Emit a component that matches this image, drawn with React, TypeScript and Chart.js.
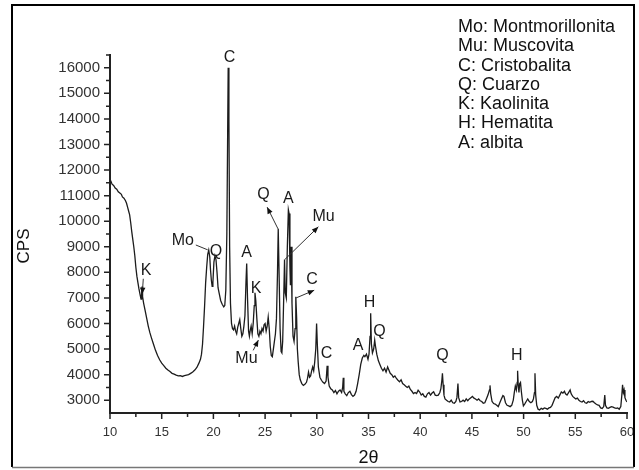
import React, { useEffect, useRef } from "react";
import { Chart, registerables } from "chart.js";

Chart.register(...registerables);

const twoTheta: number[] = [
  10.0, 10.1, 10.2, 10.35, 10.5, 10.65, 10.8, 10.95, 11.1, 11.2, 11.35, 11.5, 11.6, 11.7, 11.8, 11.9,
  12.0, 12.1, 12.2, 12.3, 12.4, 12.5, 12.6, 12.7, 12.8, 12.9, 13.0, 13.05, 13.1, 13.15, 13.25, 13.4,
  13.55, 13.7, 13.85, 14.0, 14.2, 14.4, 14.6, 14.8, 15.0, 15.2, 15.4, 15.6, 15.8, 16.0, 16.2, 16.4,
  16.6, 16.8, 17.0, 17.2, 17.4, 17.6, 17.8, 18.0, 18.2, 18.4, 18.6, 18.75, 18.85, 18.95, 19.05, 19.15,
  19.25, 19.35, 19.45, 19.55, 19.65, 19.72, 19.8, 19.88, 19.95, 20.05, 20.15, 20.25, 20.35, 20.45, 20.55, 20.7,
  20.85, 21.0, 21.1, 21.2, 21.3, 21.38, 21.43, 21.5, 21.57, 21.65, 21.75, 21.85, 21.95, 22.05, 22.15, 22.25,
  22.35, 22.45, 22.55, 22.65, 22.75, 22.85, 22.95, 23.05, 23.15, 23.22, 23.3, 23.4, 23.48, 23.55, 23.65, 23.75,
  23.85, 23.95, 24.02, 24.1, 24.2, 24.3, 24.4, 24.5, 24.6, 24.7, 24.8, 24.9, 25.0, 25.1, 25.2, 25.3,
  25.4, 25.5, 25.6, 25.7, 25.8, 25.9, 26.0, 26.1, 26.2, 26.27, 26.35, 26.45, 26.55, 26.62, 26.7, 26.8,
  26.88, 26.95, 27.05, 27.15, 27.25, 27.32, 27.4, 27.45, 27.52, 27.6, 27.7, 27.8, 27.9, 27.97, 28.05, 28.12,
  28.2, 28.3, 28.4, 28.55, 28.7, 28.85, 29.0, 29.1, 29.2, 29.3, 29.4, 29.5, 29.6, 29.7, 29.8, 29.9,
  29.98, 30.05, 30.15, 30.3, 30.45, 30.6, 30.75, 30.9, 31.0, 31.08, 31.2, 31.35, 31.5, 31.65, 31.8, 31.95,
  32.1, 32.25, 32.4, 32.5, 32.56, 32.62, 32.75, 32.9, 33.05, 33.2, 33.35, 33.5, 33.65, 33.8, 33.95, 34.1,
  34.25, 34.4, 34.55, 34.65, 34.8, 34.95, 35.05, 35.15, 35.21, 35.28, 35.38, 35.5, 35.6, 35.68, 35.8, 35.95,
  36.1, 36.25, 36.4, 36.55, 36.7, 36.85, 36.95, 37.1, 37.25, 37.4, 37.55, 37.7, 37.85, 38.0, 38.15, 38.3,
  38.45, 38.6, 38.75, 38.9, 39.05, 39.2, 39.35, 39.5, 39.65, 39.8, 39.95, 40.1, 40.25, 40.4, 40.55, 40.7,
  40.85, 41.0, 41.15, 41.3, 41.45, 41.6, 41.75, 41.9, 42.0, 42.1, 42.15, 42.22, 42.3, 42.4, 42.55, 42.7,
  42.85, 43.0, 43.15, 43.3, 43.45, 43.55, 43.65, 43.72, 43.85, 44.0, 44.15, 44.3, 44.45, 44.6, 44.75, 44.9,
  45.05, 45.2, 45.35, 45.5, 45.65, 45.8, 45.95, 46.1, 46.25, 46.4, 46.55, 46.7, 46.75, 46.82, 46.95, 47.1,
  47.25, 47.4, 47.55, 47.7, 47.85, 48.0, 48.1, 48.25, 48.4, 48.55, 48.7, 48.85, 49.0, 49.1, 49.2, 49.3,
  49.38, 49.42, 49.48, 49.55, 49.62, 49.7, 49.78, 49.88, 49.98, 50.1, 50.25, 50.4, 50.55, 50.7, 50.85, 50.95,
  51.05, 51.1, 51.17, 51.27, 51.4, 51.55, 51.7, 51.85, 52.0, 52.15, 52.3, 52.45, 52.6, 52.75, 52.9, 53.05,
  53.2, 53.35, 53.5, 53.65, 53.8, 53.95, 54.05, 54.2, 54.35, 54.5, 54.6, 54.75, 54.9, 55.05, 55.2, 55.35,
  55.5, 55.65, 55.8, 55.95, 56.1, 56.25, 56.4, 56.55, 56.7, 56.85, 57.0, 57.15, 57.3, 57.45, 57.6, 57.75,
  57.85, 57.92, 58.05, 58.2, 58.35, 58.5, 58.65, 58.8, 58.95, 59.1, 59.25, 59.4, 59.5, 59.57, 59.65, 59.72,
  59.8, 59.9, 60.0,
];

const cps: number[] = [
  11500, 11550, 11450, 11400, 11300, 11250, 11150, 11100, 11050, 10950, 10900, 10800, 10700, 10550, 10400, 10250,
  9950, 9600, 9300, 9000, 8650, 8200, 7850, 7600, 7350, 7150, 6950, 7100, 7450, 7050, 6800, 6500,
  6200, 5900, 5650, 5450, 5200, 4950, 4750, 4580, 4450, 4350, 4250, 4180, 4120, 4050, 4020, 3980,
  3950, 3960, 3930, 3960, 3980, 4000, 4050, 4100, 4180, 4280, 4450, 4600, 4800, 5200, 5900, 6700,
  7600, 8200, 8700, 8870, 8600, 8100, 7700, 7450, 7600, 8400, 8650, 8500, 8000, 7400, 7200, 6900,
  6750, 6650, 6700, 7300, 9500, 13500, 16000, 14000, 9000, 6800, 6000, 5800, 5750, 5900, 5700, 5600,
  5850, 6000, 6150, 5800, 5500, 5600, 5900, 6300, 7600, 8350, 7000, 5700, 5500, 5700, 5900, 5600,
  6000, 6700, 7200, 6900, 6200, 5600, 5500, 5700, 5600, 5800, 5700, 5950, 6000, 5700, 5900, 6250,
  5800, 5100, 4750, 4700, 5000, 5300, 5600, 6200, 8000, 9700, 8000, 5800, 4900, 4850, 5300, 7000,
  8500, 7200, 7000, 9000, 10450, 10300, 8200, 7500, 9000, 6800, 5500, 5300, 5800, 7050, 6200, 5000,
  4500, 4000, 3800, 3650, 3580, 3620, 3700, 3850, 4100, 3900, 3950, 4150, 4300, 4150, 4500, 5000,
  6000, 5200, 4300, 3900, 3780, 3700, 3650, 3750, 4350, 3900, 3550, 3450, 3400, 3300, 3380, 3250,
  3350, 3400, 3300, 3500, 3880, 3350, 3250, 3180, 3300, 3350, 3220, 3150, 3200, 3350, 3650, 4000,
  4400, 4650, 4750, 4700, 4800, 4600, 4800, 5500, 6400, 5200, 4850, 5000, 5350, 5100, 4800, 4550,
  4400, 4250, 4150, 4250, 4100, 4300, 4200, 4050, 4000, 3900, 3950, 3850, 3780, 3720, 3800, 3650,
  3600, 3550, 3500, 3550, 3420, 3350, 3260, 3300, 3260, 3390, 3320, 3200, 3250, 3150, 3120, 3250,
  3300, 3200, 3280, 3330, 3200, 3180, 3200, 3300, 3450, 3800, 4050, 3600, 3200, 3050, 3000, 2950,
  2930, 3000, 2900, 2880, 2950, 3100, 3650, 3100, 2930, 2950, 3000, 2950, 3050, 2980, 3050, 3100,
  3150, 3080, 3050, 3000, 3050, 2980, 2950, 2880, 2900, 3050, 3200, 3400, 3580, 3250, 2950, 2870,
  2850, 2800, 2750, 2900, 3050, 3180, 3150, 2900, 2800, 2780, 2750, 2800, 3000, 3300, 3550, 3400,
  3700, 4150, 3600, 3300, 3650, 3700, 3350, 3000, 2780, 2850, 2950, 3050, 2950, 2900, 2950, 3050,
  3300, 4050, 3200, 2800, 2650, 2620, 2680, 2650, 2700, 2680, 2650, 2700, 2720, 2800, 2950, 3100,
  3150, 3080, 3200, 3320, 3280, 3350, 3250, 3200, 3300, 3400, 3250, 3150, 3100, 3050, 3080, 3000,
  2950, 2930, 2980, 2900, 2880, 2950, 2920, 2950, 2960, 2900, 2850, 2820, 2800, 2700, 2680, 2750,
  3200, 2800, 2700, 2680, 2720, 2750, 2730, 2700, 2680, 2700, 2650, 2750, 3200, 3600, 3300, 3400,
  3100, 3000, 2930,
];

const xMajorTicks: number[] = [10, 15, 20, 25, 30, 35, 40, 45, 50, 55, 60];
const xMinorTicks: number[] = [12.5, 17.5, 22.5, 27.5, 32.5, 37.5, 42.5, 47.5, 52.5, 57.5];
const yMajorTicks: number[] = [3000, 4000, 5000, 6000, 7000, 8000, 9000, 10000, 11000, 12000, 13000, 14000, 15000, 16000];
const yMinorTicks: number[] = [3500, 4500, 5500, 6500, 7500, 8500, 9500, 10500, 11500, 12500, 13500, 14500, 15500, 16500];

const peakLabels: string[] = ["C", "Mo", "Q", "K", "A", "K", "Mu", "Q", "A", "Mu", "C", "C", "A", "H", "Q", "Q", "H"];
const peakLabelX: number[] = [21.55, 17.05, 20.25, 13.5, 23.22, 24.12, 23.2, 24.85, 27.25, 30.65, 29.55, 30.95, 34.0, 35.1, 36.05, 42.15, 49.35];
const peakLabelY: number[] = [16400, 9230, 8800, 8050, 8760, 7380, 4630, 11030, 10900, 10180, 7700, 4830, 5150, 6800, 5680, 4760, 4760];

// arrows from -> to
const arrowFromX: number[] = [18.3, 13.22, 26.25, 26.9, 28.0, 23.85];
const arrowFromY: number[] = [9070, 7750, 9700, 8500, 7000, 4950];
const arrowToX: number[] = [19.45, 13.12, 25.2, 30.15, 29.75, 24.35];
const arrowToY: number[] = [8880, 7150, 10550, 9780, 7300, 5350];
const arrowHead: boolean[] = [false, true, true, true, true, true];

const legendLines: string[] = [
  "Mo: Montmorillonita",
  "Mu: Muscovita",
  "C: Cristobalita",
  "Q: Cuarzo",
  "K: Kaolinita",
  "H: Hematita",
  "A: albita",
];

const FONT = "'Liberation Sans', Arial, sans-serif";

const decorPlugin = {
  id: "decor",
  beforeDraw(chart: any) {
    const ctx = chart.ctx;
    ctx.save();
    ctx.fillStyle = "#ffffff";
    ctx.fillRect(0, 0, chart.width, chart.height);
    ctx.restore();
  },
  afterDraw(chart: any) {
    const ctx = chart.ctx;
    const xs = chart.scales.x;
    const ys = chart.scales.y;
    const area = chart.chartArea;
    ctx.save();
    // outer frame
    ctx.strokeStyle = "#000";
    ctx.lineWidth = 2;
    ctx.beginPath();
    ctx.moveTo(12, 467);
    ctx.lineTo(12, 5);
    ctx.lineTo(634, 5);
    ctx.lineTo(634, 467);
    ctx.stroke();
    ctx.strokeStyle = "#777";
    ctx.lineWidth = 1.5;
    ctx.beginPath();
    ctx.moveTo(12, 467.5);
    ctx.lineTo(634, 467.5);
    ctx.stroke();

    // tick marks
    ctx.strokeStyle = "#222";
    ctx.lineWidth = 1.5;
    ctx.beginPath();
    for (const v of xMajorTicks) {
      const px = xs.getPixelForValue(v);
      ctx.moveTo(px, area.bottom);
      ctx.lineTo(px, area.bottom + 6);
    }
    for (const v of xMinorTicks) {
      const px = xs.getPixelForValue(v);
      ctx.moveTo(px, area.bottom);
      ctx.lineTo(px, area.bottom + 4);
    }
    for (const v of yMajorTicks) {
      const py = ys.getPixelForValue(v);
      ctx.moveTo(area.left, py);
      ctx.lineTo(area.left - 6, py);
    }
    for (const v of yMinorTicks) {
      const py = ys.getPixelForValue(v);
      ctx.moveTo(area.left, py);
      ctx.lineTo(area.left - 4, py);
    }
    ctx.stroke();

    // arrows
    ctx.strokeStyle = "#333";
    ctx.fillStyle = "#111";
    ctx.lineWidth = 1;
    for (let i = 0; i < arrowFromX.length; i++) {
      const x0 = xs.getPixelForValue(arrowFromX[i]);
      const y0 = ys.getPixelForValue(arrowFromY[i]);
      const x1 = xs.getPixelForValue(arrowToX[i]);
      const y1 = ys.getPixelForValue(arrowToY[i]);
      ctx.beginPath();
      ctx.moveTo(x0, y0);
      ctx.lineTo(x1, y1);
      ctx.stroke();
      if (arrowHead[i]) {
        const ang = Math.atan2(y1 - y0, x1 - x0);
        const len = 7;
        const w = 0.4;
        ctx.beginPath();
        ctx.moveTo(x1, y1);
        ctx.lineTo(x1 - len * Math.cos(ang - w), y1 - len * Math.sin(ang - w));
        ctx.lineTo(x1 - len * Math.cos(ang + w), y1 - len * Math.sin(ang + w));
        ctx.closePath();
        ctx.fill();
      }
    }

    // peak labels
    ctx.fillStyle = "#1a1a1a";
    ctx.font = `16px ${FONT}`;
    ctx.textAlign = "center";
    ctx.textBaseline = "middle";
    for (let i = 0; i < peakLabels.length; i++) {
      ctx.fillText(peakLabels[i], xs.getPixelForValue(peakLabelX[i]), ys.getPixelForValue(peakLabelY[i]));
    }

    // legend text
    ctx.font = `18px ${FONT}`;
    ctx.textAlign = "left";
    ctx.fillStyle = "#111";
    legendLines.forEach((t, i) => {
      ctx.fillText(t, 458, 27 + i * 19.3);
    });

    // axis titles
    ctx.font = `18px ${FONT}`;
    ctx.textAlign = "center";
    ctx.fillText("2θ", (area.left + area.right) / 2, 458);
    ctx.font = `17px ${FONT}`;
    ctx.translate(24, 246);
    ctx.rotate(-Math.PI / 2);
    ctx.fillText("CPS", 0, 0);
    ctx.restore();
  },
};

function XrdChart() {
  const ref = useRef<HTMLCanvasElement | null>(null);
  useEffect(() => {
    document.body.style.margin = "0";
    if (!ref.current) return;
    const points = twoTheta.map((x, i) => ({ x, y: cps[i] }));
    const chart = new Chart(ref.current, {
      type: "line",
      data: {
        datasets: [
          {
            data: points,
            borderColor: "#1c1c1c",
            borderWidth: 1.3,
            pointRadius: 0,
            tension: 0,
            fill: false,
          },
        ],
      },
      options: {
        animation: false,
        responsive: false,
        maintainAspectRatio: false,
        devicePixelRatio: 1,
        layout: { padding: { top: 55, right: 12, left: 0, bottom: 0 } },
        plugins: { legend: { display: false }, tooltip: { enabled: false } },
        scales: {
          x: {
            type: "linear",
            min: 10,
            max: 60,
            afterFit: (s: any) => {
              s.height = 57;
              s.paddingLeft = 0;
              s.paddingRight = 0;
            },
            afterBuildTicks: (s: any) => {
              s.ticks = xMajorTicks.map((v) => ({ value: v }));
            },
            grid: { display: false, drawTicks: false },
            border: { display: true, color: "#222", width: 2 },
            ticks: {
              padding: 12,
              color: "#333",
              font: { family: FONT, size: 13 },
              maxRotation: 0,
              autoSkip: false,
              callback: (v: any) => String(v),
            },
          },
          y: {
            type: "linear",
            min: 2500,
            max: 16500,
            afterFit: (s: any) => {
              s.width = 110;
              s.paddingTop = 0;
              s.paddingBottom = 0;
            },
            afterBuildTicks: (s: any) => {
              s.ticks = yMajorTicks.map((v) => ({ value: v }));
            },
            grid: { display: false, drawTicks: false },
            border: { display: true, color: "#222", width: 2 },
            ticks: {
              padding: 10,
              color: "#333",
              font: { family: FONT, size: 15 },
              autoSkip: false,
              callback: (v: any) => String(v),
            },
          },
        },
      },
      plugins: [decorPlugin],
    });
    return () => chart.destroy();
  }, []);
  return (
    <div style={{ width: 639, height: 470, position: "relative" }}>
      <canvas ref={ref} width={639} height={470} style={{ display: "block" }} />
    </div>
  );
}

export default function App() {
  return <XrdChart />;
}
